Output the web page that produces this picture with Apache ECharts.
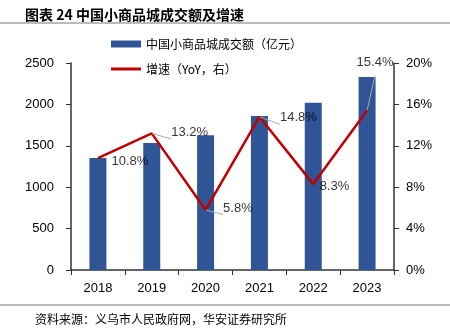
<!DOCTYPE html>
<html><head><meta charset="utf-8">
<script src="https://cdn.jsdelivr.net/npm/echarts@6/dist/echarts.min.js"></script>
<style>html,body{margin:0;padding:0;background:#fff}#c{width:450px;height:335px}</style>
</head><body><div id="c"></div>
<script>
var years = ['2018','2019','2020','2021','2022','2023'];
var turnover = [1353, 1534, 1627, 1860, 2020, 2331];
var growth = [10.8, 13.2, 5.8, 14.8, 8.3, 15.4];
var leftTicks = [0, 500, 1000, 1500, 2000, 2500];
var rightTicks = [0, 4, 8, 12, 16, 20];

var labelOffsets = [[5, 3], [11, -1], [9, -2], [12, 1], [-2, 2], [-19, -48]];
var showLines = [false, true, true, true, false, true];

var chart = echarts.init(document.getElementById('c'));
var font = '"Liberation Sans", Arial, sans-serif';
var cjk = '"Noto Sans CJK SC", sans-serif';
chart.setOption({
  animation: false,
  textStyle: {fontFamily: font},
  title: {text: '图表 24 中国小商品城成交额及增速', left: 20, top: 3,
    textStyle: {fontFamily: cjk, fontSize: 14, fontWeight: 'bold', color: '#000'}},
  graphic: [
    {type: 'line', shape: {x1: 0, y1: 23, x2: 450, y2: 23}, style: {stroke: '#777', lineWidth: 1}},
    {type: 'line', shape: {x1: 0, y1: 305, x2: 450, y2: 305}, style: {stroke: '#777', lineWidth: 1}},
    {type: 'text', left: 35, top: 313, style: {text: '资料来源：义乌市人民政府网，华安证券研究所', fontFamily: cjk, fontSize: 12, fill: '#000'}}
  ],
  legend: {orient: 'vertical', left: 106, top: 33, itemWidth: 30, itemHeight: 7, itemGap: 13,
    textStyle: {fontFamily: cjk, fontSize: 12, color: '#000'},
    data: [{name: '中国小商品城成交额（亿元）', icon: 'rect'},
           {name: '增速（YoY，右）', icon: 'path://M0,0H30V3H0Z', itemStyle: {color: '#C00000'}}]},
  grid: {left: 71, right: 56, top: 63, bottom: 65},
  xAxis: {type: 'category', data: years,
    axisLine: {lineStyle: {color: '#333', width: 1.5}},
    axisTick: {show: true, length: 5, lineStyle: {color: '#333'}},
    axisLabel: {color: '#000', fontSize: 13, margin: 12}},
  yAxis: [
    {type: 'value', min: leftTicks[0], max: leftTicks[leftTicks.length - 1], interval: 500,
      axisLine: {show: true, lineStyle: {color: '#333', width: 1.5}},
      axisTick: {show: true, length: 5, lineStyle: {color: '#333'}},
      splitLine: {show: false},
      axisLabel: {color: '#000', fontSize: 13, margin: 17, formatter: function (v) { return String(v); }}},
    {type: 'value', min: rightTicks[0], max: rightTicks[rightTicks.length - 1], interval: 4,
      axisLine: {show: true, lineStyle: {color: '#333', width: 1.5}},
      axisTick: {show: true, length: 5, lineStyle: {color: '#333'}},
      splitLine: {show: false},
      axisLabel: {color: '#000', fontSize: 13, margin: 12, formatter: '{value}%'}}
  ],
  series: [
    {name: '中国小商品城成交额（亿元）', type: 'bar', data: turnover, barWidth: 17,
      itemStyle: {color: '#2F5597'}},
    {name: '增速（YoY，右）', type: 'line', yAxisIndex: 1, symbol: 'none',
      lineStyle: {color: '#C00000', width: 2.5}, itemStyle: {color: '#C00000'},
      data: growth},
    {name: 'labels', type: 'scatter', yAxisIndex: 1, symbolSize: 1, z: 5,
      itemStyle: {color: 'rgba(0,0,0,0)'},
      data: growth.map(function (v, i) {
        return {value: v,
          label: {show: true, position: 'right', offset: labelOffsets[i], distance: 8,
            formatter: v.toFixed(1) + '%', fontSize: 13, color: '#000', fontFamily: font},
          labelLine: {show: showLines[i], lineStyle: {color: '#aaa', width: 1}}};
      })}
  ]
});
</script></body></html>
